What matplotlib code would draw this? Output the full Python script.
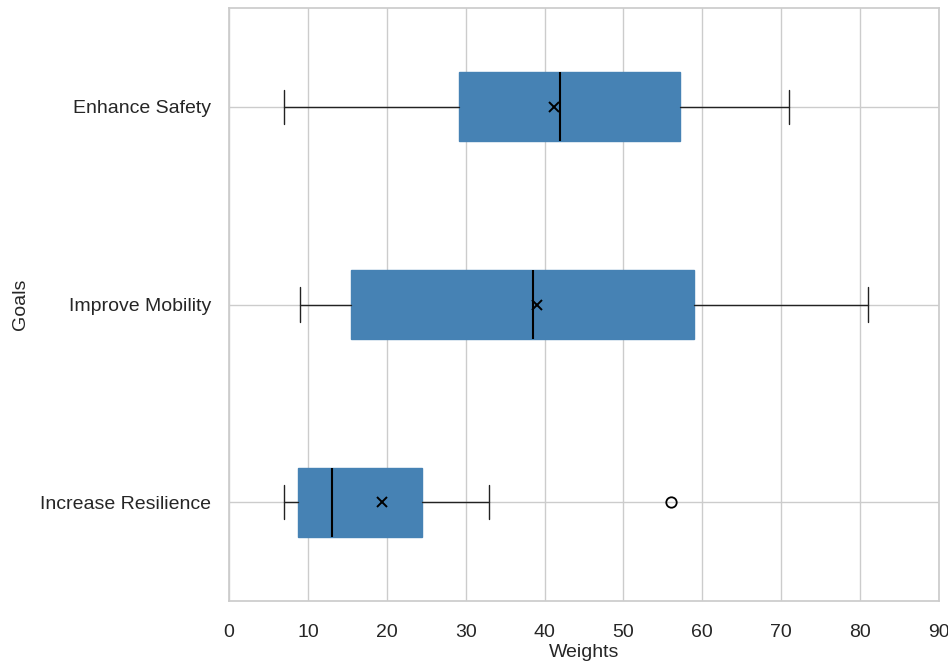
import matplotlib
matplotlib.use("Agg")
import matplotlib.pyplot as plt
import seaborn as sns

sns.set_theme(style="whitegrid")
plt.rcParams["font.family"] = ["Liberation Sans", "DejaVu Sans"]

# Summary statistics of the weights per goal (bottom to top)
goals = ["Increase Resilience", "Improve Mobility", "Enhance Safety"]
whisker_low = [7.0, 9.0, 7.0]
q1 = [8.75, 15.5, 29.2]
median = [13.0, 38.5, 42.0]
q3 = [24.5, 59.0, 57.2]
whisker_high = [33.0, 81.0, 71.0]
means = [19.45, 39.0, 41.2]
outliers = [[56.0], [], []]

stats = []
for i, g in enumerate(goals):
    stats.append(dict(label=g, whislo=whisker_low[i], q1=q1[i], med=median[i],
                      q3=q3[i], whishi=whisker_high[i], mean=means[i],
                      fliers=outliers[i]))

fig = plt.figure(figsize=(9.48, 6.61), dpi=100)
ax = fig.add_axes([229 / 948, 60 / 661, 710 / 948, 593 / 661])

ax.bxp(stats, vert=False, widths=0.35, patch_artist=True, showmeans=True,
       boxprops=dict(facecolor="steelblue", edgecolor="steelblue", linewidth=1),
       medianprops=dict(color="black", linewidth=1.5),
       whiskerprops=dict(color="#222222", linewidth=1.0),
       capprops=dict(color="#222222", linewidth=1.0),
       meanprops=dict(marker="x", markeredgecolor="black", markerfacecolor="black",
                      markersize=7, markeredgewidth=1.4),
       flierprops=dict(marker="o", markerfacecolor="none", markeredgecolor="black",
                       markersize=7.5, markeredgewidth=1.3))

ax.set_xlim(0, 90)
ax.set_ylim(0.5, 3.5)
ax.set_xticks(range(0, 91, 10))
ax.tick_params(axis="both", labelsize=14, colors="#262626")
ax.tick_params(axis="x", pad=10.5)
ax.tick_params(axis="y", pad=7)
ax.set_xlabel("Weights", fontsize=14, color="#262626", labelpad=2)
ax.set_ylabel("Goals", fontsize=14, color="#262626", labelpad=8)
ax.grid(True, color="#cccccc", linewidth=1)
for s in ax.spines.values():
    s.set_color("#cccccc")

fig.savefig("out.png", dpi=100)
